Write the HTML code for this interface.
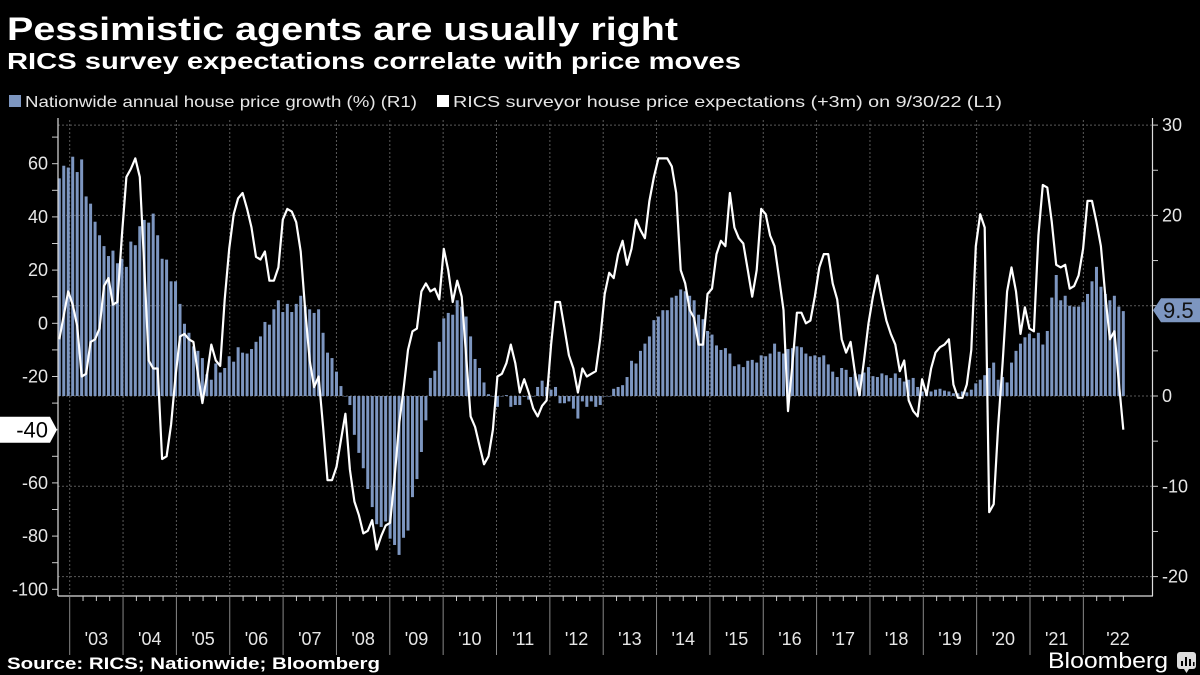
<!DOCTYPE html>
<html><head><meta charset="utf-8"><style>
html,body{margin:0;padding:0;background:#000;}
svg{display:block;font-family:"Liberation Sans",sans-serif;}
</style></head><body>
<svg id="chart" width="1200" height="675" viewBox="0 0 1200 675" xmlns="http://www.w3.org/2000/svg">
<rect x="0" y="0" width="1200" height="675" fill="#000"/>
<text x="7" y="40" fill="#fff" font-size="32" font-weight="bold" textLength="671" lengthAdjust="spacingAndGlyphs">Pessimistic agents are usually right</text>
<text x="7" y="69" fill="#fff" font-size="23" font-weight="bold" textLength="734" lengthAdjust="spacingAndGlyphs">RICS survey expectations correlate with price moves</text>
<g>
<g>
<rect x="9" y="95" width="12" height="12" fill="#7d96c0"/>
<text x="25" y="107" fill="#e6e6e6" font-size="16" textLength="392" lengthAdjust="spacingAndGlyphs">Nationwide annual house price growth (%) (R1)</text>
</g>
<g>
<rect x="437" y="95" width="12" height="12" fill="#fff"/>
<text x="453" y="107" fill="#e6e6e6" font-size="16" textLength="549" lengthAdjust="spacingAndGlyphs">RICS surveyor house price expectations (+3m) on 9/30/22 (L1)</text>
</g>
</g>
<g id="grid"></g>
<g id="bars"></g>
<g id="line"></g>
<g id="axes"></g>
<text x="7" y="669" fill="#fff" font-size="17" font-weight="bold" textLength="373" lengthAdjust="spacingAndGlyphs">Source: RICS; Nationwide; Bloomberg</text>
<text x="1048" y="668" fill="#fff" font-size="22" textLength="120" lengthAdjust="spacingAndGlyphs">Bloomberg</text>
<g>
<rect x="1177" y="652" width="19" height="17" rx="3" fill="#ddd"/>
<polygon points="1184,669 1189,669 1186.5,673" fill="#ddd"/>
<rect x="1181" y="661" width="2" height="5" fill="#000"/>
<rect x="1185" y="657" width="2" height="9" fill="#000"/>
<rect x="1189" y="659" width="2" height="7" fill="#000"/>
<rect x="1193" y="662" width="1.5" height="4" fill="#000"/>
</g>
</svg>
<script>
const yearLabels = ["'03","'04","'05","'06","'07","'08","'09","'10","'11","'12","'13","'14","'15","'16","'17","'18","'19","'20","'21","'22"];
const leftTicks = [60,40,20,0,-20,-40,-60,-80,-100];
const rightTicks = [30,20,10,0,-10,-20];
const nationwide = [24.1,25.5,25.3,26.5,24.8,26.2,22.1,21.3,19.3,17.8,16.6,15.5,16.1,14.7,15.2,14.3,17.1,16.7,18.8,19.5,19.2,20.2,17.8,15.2,15.1,12.7,12.7,10.2,8.0,7.0,5.5,5.0,4.2,2.4,1.8,3.6,2.6,3.1,4.4,3.8,5.4,4.8,4.7,5.2,6.0,6.6,8.2,7.9,9.6,10.6,9.3,10.2,9.3,10.2,11.1,9.9,9.6,9.2,9.6,7.0,4.8,4.2,2.7,1.1,0,-1.0,-4.3,-6.3,-8.0,-10.3,-12.3,-14.2,-14.5,-13.9,-15.8,-16.5,-17.6,-15.7,-14.9,-11.2,-9.2,
-6.2,-2.7,2.0,2.8,6.0,8.6,9.2,9.0,10.6,9.9,8.8,6.6,4.1,3.1,1.5,0.2,0,-1.2,0,0.1,-1.2,-1.0,-1.0,-0.1,-0.4,0,1.0,1.7,1.0,0.7,1.0,-0.8,-0.8,-0.6,-1.4,-2.5,-0.6,-1.2,-0.6,-1.2,-1.0,0,0,0.8,1.0,1.2,2.1,3.9,3.6,5.0,5.8,6.6,8.4,8.8,9.5,9.5,10.9,11.1,11.8,11.6,11.1,10.6,9.0,8.5,7.2,6.8,5.6,5.1,5.3,4.7,3.3,3.5,3.2,3.9,4.0,3.7,4.5,4.4,4.7,5.8,4.9,4.7,5.2,5.3,5.5,
5.4,4.7,4.4,4.5,4.3,4.5,3.5,2.7,2.1,3.1,2.9,2.1,2.5,2.4,2.6,3.2,2.2,2.1,2.5,2.3,2.0,2.5,2.0,1.6,1.8,2.0,1.0,0.5,0.7,0.5,0.7,0.8,0.6,0.5,0.3,0.3,0.5,0.4,0.7,1.4,1.8,2.3,3.1,3.7,1.8,2.1,1.5,3.7,5.0,5.8,6.5,6.9,6.4,7.0,5.7,7.2,10.9,13.4,10.6,11.1,10.0,9.9,9.9,10.4,11.3,12.7,14.3,12.1,11.3,10.6,11.1,9.9,9.4];
const rics = [-6,3,12,7,-1,-20,-19,-7,-6,-2,14,17,7,8,33,55,58,62,55,22,-14,-17,-17,-51,-50,-38,-20,-5,-4,-6,-7,-19,-30,-20,-8,-14,-16,9,28,41,47,49,43,36,25,24,27,16,16,21,39,43,42,38,27,5,-14,-24,-20,-39,-59,-59,-54,-44,-34,-55,-67,-72,-79,-78,-74,-85,-80,-76,-75,-58,-38,-25,-10,-3,-2,12,15,12,13,9,28,20,8,16,10,-12,-35,-39,-46,-53,-50,-40,-20,-19,-15,-8,-15,-26,-21,-26,-32,-35,-31,-29,-8,8,8,-2,-12,-17,-26,-17,-20,-19,-18,-6,11,19,17,26,31,22,28,39,35,32,46,55,62,62,62,59,49,20,15,5,2,-8,-8,11,13,26,31,29,49,36,32,30,20,10,20,43,41,33,29,17,5,-33,-15,4,4,0,1,10,21,26,26,15,9,-6,-11,-7,-19,-27,-14,0,10,18,9,1,-4,-8,-18,-14,-29,-33,-35,-21,-27,-17,-11,-9,-8,-6,-23,-28,-28,-23,-10,29,41,36,-71,-68,-39,-15,12,21,12,-4,6,-2,-3,33,52,51,38,22,21,22,13,14,18,28,46,46,38,29,10,-6,-3,-22,-40];

const NS = "http://www.w3.org/2000/svg";
const X0 = 59.3, XN = 1123.3;
const yL = v => 323.3 - v * 2.66;
const yR = v => 396 - v * 9.03;
const xB = i => X0 + i * (XN - X0) / (nationwide.length - 1);
const xL = i => X0 + i * (XN - X0) / (rics.length - 1);
const yearStart = k => 69.7 + k * 53.35;
function mk(tag, attrs, parent){ const e=document.createElementNS(NS,tag); for(const k in attrs) e.setAttribute(k,attrs[k]); parent.appendChild(e); return e; }

const grid = document.getElementById('grid');
rightTicks.forEach(v=>{
  const l = mk('line',{x1:58,x2:1152,y1:yR(v),y2:yR(v),stroke:'#5a5a5a','stroke-width':1,'stroke-dasharray':'2,2'},grid);
  
  
});
for(let k=0;k<20;k++){
  const l = mk('line',{x1:yearStart(k),x2:yearStart(k),y1:120,y2:596,stroke:'#5a5a5a','stroke-width':1,'stroke-dasharray':'2,2'},grid);
  
  
}

const bars = document.getElementById('bars');
nationwide.forEach((v,i)=>{
  const y0=yR(0), y1=yR(v);
  const r = mk('rect',{x:xB(i)-1.5,y:Math.min(y0,y1),width:3,height:Math.max(0.5,Math.abs(y1-y0)),fill:'#7d96c0'},bars);
  
  
});

const lineG = document.getElementById('line');
const pts = rics.map((v,i)=>xL(i).toFixed(1)+','+yL(v).toFixed(1)).join(' ');
const pl = mk('polyline',{points:pts,fill:'none',stroke:'#fff','stroke-width':2.2,'stroke-linejoin':'round'},lineG);



const axes = document.getElementById('axes');
mk('line',{x1:58,x2:58,y1:118,y2:596,stroke:'#ddd','stroke-width':1.2},axes);
mk('line',{x1:1152.5,x2:1152.5,y1:118,y2:596,stroke:'#ddd','stroke-width':1.2},axes);
mk('line',{x1:58,x2:1153,y1:596,y2:596,stroke:'#ddd','stroke-width':1.2},axes);
for(let v=-100; v<=70; v+=10){
  mk('line',{x1:52,x2:58,y1:yL(v),y2:yL(v),stroke:'#ccc','stroke-width':1},axes);
}
leftTicks.forEach(v=>{
  const t = mk('text',{x:48,y:yL(v)+6,fill:'#e6e6e6','font-size':18,'text-anchor':'end'},axes);
  t.textContent = v;
  
  
});
for(let v=-20; v<=30; v+=5){
  mk('line',{x1:1152,x2:1158,y1:yR(v),y2:yR(v),stroke:'#ccc','stroke-width':1},axes);
}
rightTicks.forEach(v=>{
  const t = mk('text',{x:1162,y:yR(v)+6,fill:'#e6e6e6','font-size':18},axes);
  t.textContent = v;
  
  
});
for(let q=0;q<80;q++){
  const x = yearStart(0) + q*53.35/4;
  if (x>1140) break;
  const major = q%4===0;
  mk('line',{x1:x,x2:x,y1:596,y2:major?655:601,stroke:major?'#888':'#ccc','stroke-width':1},axes);
}
yearLabels.forEach((s,k)=>{
  const cx = k===19 ? 1118 : yearStart(k)+26.7;
  const t = mk('text',{x:cx,y:645,fill:'#e6e6e6','font-size':18,'text-anchor':'middle'},axes);
  t.textContent = s;
  
  
});
// last value tags
const lastL = rics[rics.length-1], lastR = nationwide[nationwide.length-1];
const ty = yL(lastL);
const tagL = mk('polygon',{points:`0,${ty-13} 50,${ty-13} 57,${ty} 50,${ty+13} 0,${ty+13}`,fill:'#fff'},axes);


const tl = mk('text',{x:48,y:ty+8,fill:'#000','font-size':22,'text-anchor':'end'},axes);
tl.textContent = Math.round(lastL);


const ry = yR(9.5);
const tagR = mk('polygon',{points:`1153,${ry} 1161,${ry-12} 1200,${ry-12} 1200,${ry+12} 1161,${ry+12}`,fill:'#7d96c0'},axes);


const tr = mk('text',{x:1163,y:ry+8,fill:'#111','font-size':22},axes);
tr.textContent = '9.5';


</script>
</body></html>
